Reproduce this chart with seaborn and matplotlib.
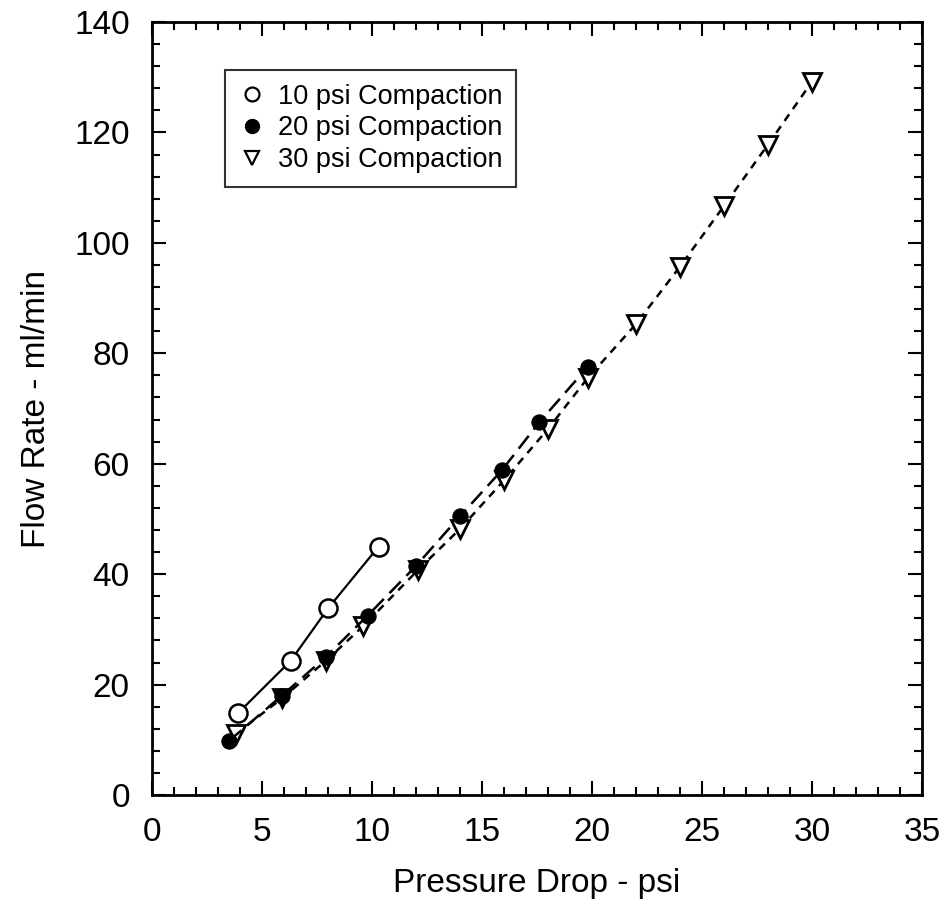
import matplotlib
matplotlib.use("Agg")
import matplotlib.pyplot as plt
from matplotlib.lines import Line2D
from matplotlib.ticker import MultipleLocator
import seaborn as sns
import pandas as pd

# Data
x_10 = [3.9, 6.3, 8.0, 10.3]
y_10 = [14.8, 24.3, 33.8, 45.0]

x_20 = [3.5, 5.9, 7.9, 9.8, 12.0, 14.0, 15.9, 17.6, 19.8]
y_20 = [9.8, 18.0, 25.0, 32.5, 41.5, 50.5, 58.8, 67.5, 77.5]

x_30 = [3.8, 5.9, 7.9, 9.6, 12.1, 14.0, 16.0, 18.0, 19.8, 22.0, 24.0, 26.0, 28.0, 30.0]
y_30 = [11.0, 17.5, 24.3, 30.6, 40.8, 48.2, 57.0, 66.3, 75.5, 85.3, 95.7, 106.7, 117.8, 129.2]

labels = ["10 psi Compaction", "20 psi Compaction", "30 psi Compaction"]
x_ticks = [0, 5, 10, 15, 20, 25, 30, 35]
y_ticks = [0, 20, 40, 60, 80, 100, 120, 140]

sns.set_theme(style="white")
plt.rcParams["font.family"] = ["Liberation Sans", "DejaVu Sans"]
plt.rcParams["text.color"] = "black"
plt.rcParams["axes.labelcolor"] = "black"
plt.rcParams["xtick.color"] = "black"
plt.rcParams["ytick.color"] = "black"

fig = plt.figure(figsize=(9.46, 9.22), dpi=100)
ax = fig.add_axes([0.1607, 0.1377, 0.8139, 0.8384])

df10 = pd.DataFrame({"x": x_10, "y": y_10})
df20 = pd.DataFrame({"x": x_20, "y": y_20})
df30 = pd.DataFrame({"x": x_30, "y": y_30})

sns.lineplot(data=df30, x="x", y="y", ax=ax, color="black", lw=1.8,
             linestyle=(0, (3.2, 2.6)), marker="v", markersize=13,
             markerfacecolor="white", markeredgecolor="black", markeredgewidth=2,
             sort=False, legend=False, zorder=2)
sns.lineplot(data=df20, x="x", y="y", ax=ax, color="black", lw=1.8,
             linestyle=(0, (6.5, 3.2)), marker="o", markersize=11,
             markerfacecolor="black", markeredgecolor="black",
             sort=False, legend=False, zorder=3)
sns.lineplot(data=df10, x="x", y="y", ax=ax, color="black", lw=1.6,
             linestyle="-", marker="o", markersize=13,
             markerfacecolor="white", markeredgecolor="black", markeredgewidth=1.8,
             sort=False, legend=False, zorder=4)

ax.set_xlim(0, 35)
ax.set_ylim(0, 140)
ax.set_xticks(x_ticks)
ax.set_yticks(y_ticks)
ax.xaxis.set_minor_locator(MultipleLocator(1))
ax.yaxis.set_minor_locator(MultipleLocator(4))
ax.tick_params(which="both", direction="in", top=True, right=True,
               bottom=True, left=True, color="black", width=1.5)
ax.tick_params(which="major", length=10, labelsize=24)
ax.tick_params(which="minor", length=5.5)
ax.tick_params(axis="x", which="major", pad=16)
ax.tick_params(axis="y", which="major", pad=16)

for s in ax.spines.values():
    s.set_color("black")
    s.set_linewidth(2)

ax.set_xlabel("Pressure Drop - psi", fontsize=24, labelpad=14, color="black")
ax.set_ylabel("Flow Rate - ml/min", fontsize=24, labelpad=16, color="black")
ax.grid(False)

handles = [
    Line2D([], [], linestyle="none", marker="o", markersize=10,
           markerfacecolor="white", markeredgecolor="black", markeredgewidth=1.6),
    Line2D([], [], linestyle="none", marker="o", markersize=10,
           markerfacecolor="black", markeredgecolor="black"),
    Line2D([], [], linestyle="none", marker="v", markersize=10,
           markerfacecolor="white", markeredgecolor="black", markeredgewidth=1.6),
]
leg = ax.legend(handles, labels, loc="upper left", bbox_to_anchor=(0.095, 0.938),
                borderaxespad=0, fontsize=19.5, frameon=True, fancybox=False,
                edgecolor="black", handlelength=1.0, handletextpad=0.45,
                labelspacing=0.22, borderpad=0.5)
leg.get_frame().set_linewidth(1.5)

fig.savefig("out.png", dpi=100, facecolor="white")
